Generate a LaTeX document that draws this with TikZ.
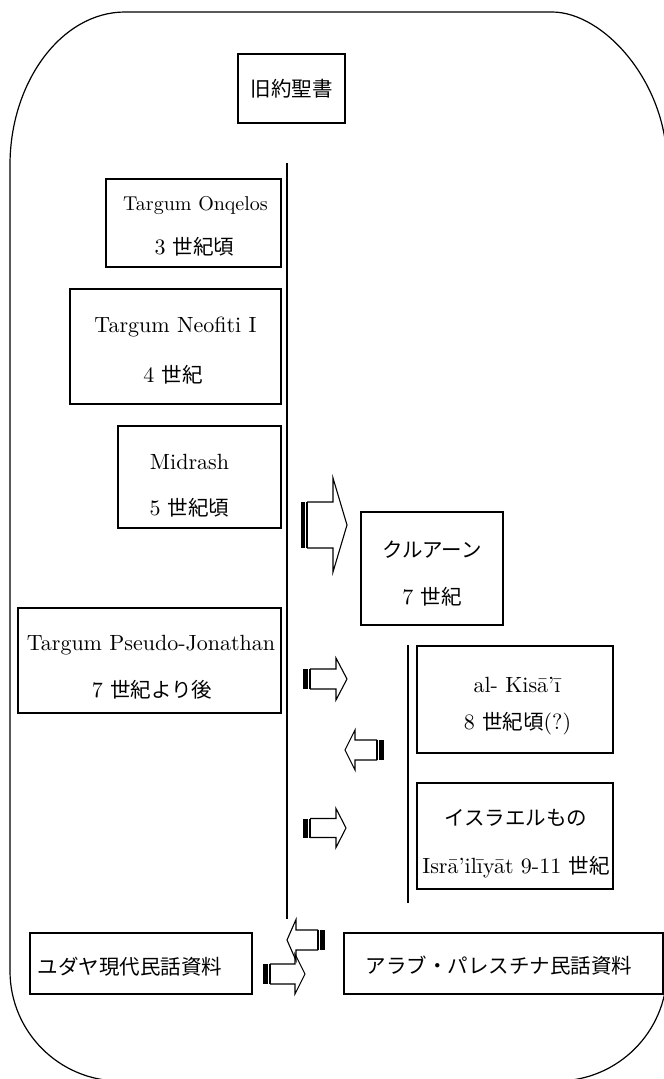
\documentclass[tikz,border=0pt]{standalone}
\usepackage{fontspec}
\setmainfont{lmroman10-regular}[Extension=.otf]
\newfontfamily\jpfont{Noto Sans CJK JP}
\newcommand\J[1]{{\jpfont\fontsize{20.5}{24}\selectfont #1}}
\tikzset{
  pics/sarrow/.style n args={5}{code={
    \fill ({0},{-#3/2}) rectangle ({#5},{#3/2});
    \draw[line width=1.8pt] ({#5+2},{-#3/2}) -- ({#5+2},{#3/2});
    \draw[line width=1.1pt, line join=miter] ({#5+2},{-#3/2}) -- ({#1-#4},{-#3/2}) -- ({#1-#4},{-#2/2}) -- ({#1},{0}) -- ({#1-#4},{#2/2}) -- ({#1-#4},{#3/2}) -- ({#5+2},{#3/2});
  }},
  box/.style={draw, line width=1.3pt, inner sep=0pt},
  lbl/.style={inner sep=0pt, font=\fontsize{22}{26}\selectfont, anchor=center},
  rule/.style={line width=1.3pt},
  frame/.style={line width=1.2pt}
}
\begin{document}
\begin{tikzpicture}[x=1pt,y=-1pt]
\useasboundingbox (0,0) rectangle (664,1079);
% outer frame
\draw[frame] (10,165) .. controls (10,82) and (61.5,12) .. (125,12) -- (552,12)
  .. controls (603.5,12) and (667,82) .. (667,165) -- (667,971)
  .. controls (667,1031.75) and (617.75,1081) .. (557,1081) -- (120,1081)
  .. controls (59.25,1081) and (10,1031.75) .. (10,971) -- cycle;
% boxes
\node[box, minimum width=107pt, minimum height=69pt] (ot) at (291.5,88.5) {};
\node[box, minimum width=175pt, minimum height=88pt] (onq) at (193.5,223) {};
\node[box, minimum width=211pt, minimum height=115pt] (neo) at (175.5,346.5) {};
\node[box, minimum width=163pt, minimum height=102pt] (mid) at (199.5,477) {};
\node[box, minimum width=263pt, minimum height=105pt] (psj) at (149.5,660.5) {};
\node[box, minimum width=142pt, minimum height=113pt] (qur) at (432,568.5) {};
\node[box, minimum width=196pt, minimum height=107pt] (kis) at (515,699.5) {};
\node[box, minimum width=196pt, minimum height=106pt] (isr) at (515,836) {};
\node[box, minimum width=222pt, minimum height=61pt] (yud) at (141,963.5) {};
\node[box, minimum width=319pt, minimum height=61pt] (arab) at (503.5,963.5) {};
% texts
\node[lbl] (ot-t) at (291.5,89) {\J{旧約聖書}};
\node[lbl] (onq-t1) at (195.5,206) {\fontsize{20}{24}\selectfont Targum Onqelos};
\node[lbl] (onq-t2) at (194.5,247) {3 \J{世紀頃}};
\node[lbl] (neo-t1) at (175.5,327) {Targum Neofiti I};
\node[lbl] (neo-t2) at (173,375) {4 \J{世紀}};
\node[lbl] (mid-t1) at (189.5,462) {Midrash};
\node[lbl] (mid-t2) at (189.5,508) {5 \J{世紀頃}};
\node[lbl] (psj-t1) at (151,645) {Targum Pseudo-Jonathan};
\node[lbl] (psj-t2) at (152,690) {7 \J{世紀より後}};
\node[lbl] (qur-t1) at (432,550) {\J{クルアーン}};
\node[lbl] (qur-t2) at (432,597) {7 \J{世紀}};
\node[lbl] (kis-t1) at (517,685) {al- Kisā’ī};
\node[lbl] (kis-t2) at (517.5,724) {8 \J{世紀頃}(?)};
\node[lbl] (isr-t1) at (516,818) {\J{イスラエルもの}};
\node[lbl] (isr-t2) at (516,867) {Isrā’ilīyāt 9-11 \J{世紀}};
\node[lbl] (yud-t) at (130,967) {\J{ユダヤ現代民話資料}};
\node[lbl] (arab-t) at (499,966) {\J{アラブ・パレスチナ民話資料}};
% time lines
\coordinate (m1) at (287,163);
\coordinate (m2) at (287,919);
\coordinate (r1) at (408,645);
\coordinate (r2) at (408,903);
\draw[rule] (m1) -- (m2);
\draw[rule] (r1) -- (r2);
% striped block arrows
\pic at (301,525) {sarrow={46}{94}{46}{14}{4}};
\pic at (303,679) {sarrow={44}{42}{20}{11}{5}};
\pic[rotate=180] at (384,750) {sarrow={39}{40}{20}{10}{5}};
\pic at (303,828) {sarrow={43}{39}{19}{10}{5}};
\pic[rotate=180] at (325,940) {sarrow={38}{41}{20}{9}{5}};
\pic at (263,974) {sarrow={42}{40}{20}{10}{5}};
\end{tikzpicture}
\end{document}
